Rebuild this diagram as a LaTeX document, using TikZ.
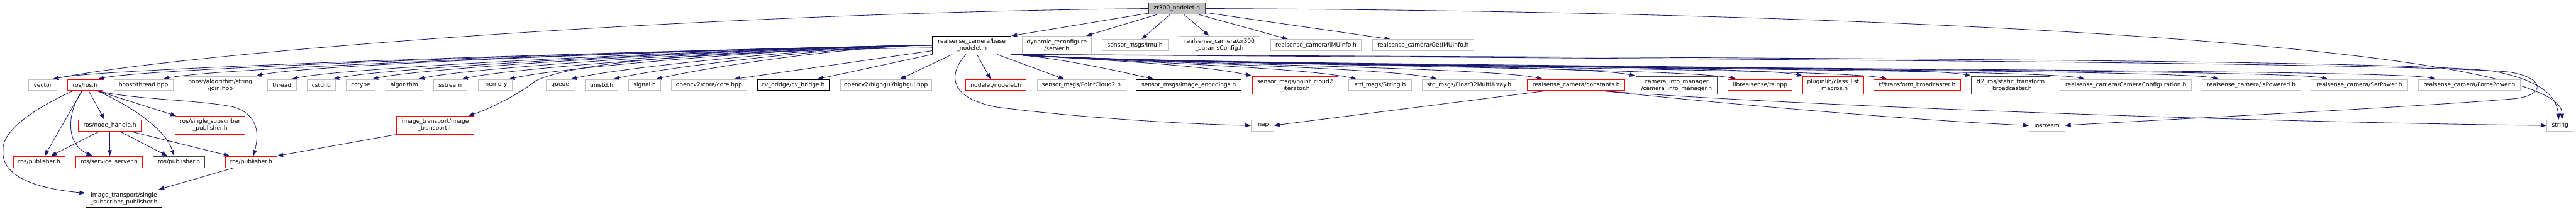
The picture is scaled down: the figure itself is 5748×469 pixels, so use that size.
\documentclass[tikz,border=0pt]{standalone}
\usepackage{fontspec}
\setmainfont{DejaVu Sans}
\usetikzlibrary{calc,arrows.meta}
\definecolor{cedge}{HTML}{191970}
\definecolor{cgrey}{HTML}{BFBFBF}
\definecolor{cred}{HTML}{FF0000}
\definecolor{cdark}{HTML}{404040}
\definecolor{croot}{HTML}{BFBFBF}
\pgfdeclarelayer{back}
\pgfsetlayers{back,main}
\tikzset{
  hbox/.style={draw,line width=1.3pt,fill=white,inner sep=0pt,align=center,minimum height=25pt},
  gbox/.style={hbox,draw=cgrey},
  rbox/.style={hbox,draw=cred},
  kbox/.style={hbox,draw=black},
  dbox/.style={hbox,draw=cdark},
  tall/.style={minimum height=40pt},
  dep/.style={draw=cedge,line width=1.2pt,-{Triangle[length=13pt,width=9pt]}},
}
\begin{document}
\begin{tikzpicture}[x=1pt,y=1pt,font=\fontsize{12.8}{15}\selectfont]
    \useasboundingbox (0,0) rectangle (5748,-469);
    \begin{pgfonlayer}{back}
      \fill[white] (0,0) rectangle (5748,-469);
    \end{pgfonlayer}
    % ---- root and its direct includes
    \node[hbox,draw=cdark,fill=croot,minimum width=126pt,minimum height=26pt] (root) at (2626,-19) {zr300\_nodelet.h};
    \node[kbox,tall,minimum width=175pt] (base) at (2168.5,-100.5) {realsense\_camera/base\\\_nodelet.h};
    \node[gbox,tall,minimum width=154pt] (dyn) at (2358,-100.5) {dynamic\_reconfigure\\/server.h};
    \node[gbox,minimum width=147pt] (imu) at (2532.5,-100.5) {sensor\_msgs/Imu.h};
    \node[gbox,tall,minimum width=180pt] (zrcfg) at (2721,-100.5) {realsense\_camera/zr300\\\_paramsConfig.h};
    \node[gbox,minimum width=203pt] (imuinfo) at (2936.5,-100.5) {realsense\_camera/IMUInfo.h};
    \node[gbox,minimum width=227pt] (getimu) at (3175.5,-100.5) {realsense\_camera/GetIMUInfo.h};
    % ---- third row
    \node[gbox,minimum width=63pt] (vector) at (95.5,-189.5) {vector};
    \node[rbox,minimum width=78pt] (ros) at (190,-189.5) {ros/ros.h};
    \node[gbox,minimum width=132pt] (bthread) at (320,-189.5) {boost/thread.hpp};
    \node[gbox,tall,minimum width=163pt] (join) at (491.5,-190) {boost/algorithm/string\\/join.hpp};
    \node[gbox,minimum width=64pt] (thread) at (629,-189.5) {thread};
    \node[gbox,minimum width=62pt] (cstdlib) at (717,-189.5) {cstdlib};
    \node[gbox,minimum width=64pt] (cctype) at (805,-189.5) {cctype};
    \node[gbox,minimum width=82pt] (algo) at (902,-189.5) {algorithm};
    \node[gbox,minimum width=75pt] (sstream) at (1004.5,-189.5) {sstream};
    \node[gbox,minimum width=76pt] (memory) at (1105,-189.5) {memory};
    \node[gbox,minimum width=62pt] (queue) at (1250,-189.5) {queue};
    \node[gbox,minimum width=73pt] (unistd) at (1342.5,-189.5) {unistd.h};
    \node[gbox,minimum width=71pt] (signal) at (1438.5,-189.5) {signal.h};
    \node[gbox,minimum width=168pt] (core) at (1582,-189.5) {opencv2/core/core.hpp};
    \node[kbox,minimum width=160pt] (cvbridge) at (1770,-189.5) {cv\_bridge/cv\_bridge.h};
    \node[gbox,minimum width=204pt] (highgui) at (1977,-189.5) {opencv2/highgui/highgui.hpp};
    \node[rbox,minimum width=135pt] (nodelet) at (2222.5,-189.5) {nodelet/nodelet.h};
    \node[gbox,minimum width=198pt] (pc2) at (2413,-189.5) {sensor\_msgs/PointCloud2.h};
    \node[kbox,minimum width=235pt] (enc) at (2652.5,-189.5) {sensor\_msgs/image\_encodings.h};
    \node[rbox,tall,minimum width=192pt] (pc2it) at (2890,-190) {sensor\_msgs/point\_cloud2\\\_iterator.h};
    \node[gbox,minimum width=139pt] (strmsg) at (3079.5,-189.5) {std\_msgs/String.h};
    \node[gbox,minimum width=210pt] (f32) at (3278,-189.5) {std\_msgs/Float32MultiArray.h};
    \node[rbox,minimum width=218pt] (const) at (3517,-189.5) {realsense\_camera/constants.h};
    \node[dbox,tall,minimum width=182pt] (cim) at (3741,-190) {camera\_info\_manager\\/camera\_info\_manager.h};
    \node[rbox,minimum width=143pt] (rs) at (3927.5,-189.5) {librealsense/rs.hpp};
    \node[rbox,tall,minimum width=135pt] (plugin) at (4090.5,-190) {pluginlib/class\_list\\\_macros.h};
    \node[rbox,minimum width=194pt] (tfb) at (4278,-189.5) {tf/transform\_broadcaster.h};
    \node[dbox,tall,minimum width=175pt] (tf2) at (4486.5,-190) {tf2\_ros/static\_transform\\\_broadcaster.h};
    \node[gbox,minimum width=293pt] (camcfg) at (4743.5,-189.5) {realsense\_camera/CameraConfiguration.h};
    \node[gbox,minimum width=221pt] (ispow) at (5023.5,-189.5) {realsense\_camera/IsPowered.h};
    \node[gbox,minimum width=215pt] (setpow) at (5264.5,-189.5) {realsense\_camera/SetPower.h};
    \node[gbox,minimum width=228pt] (forcepow) at (5510,-189.5) {realsense\_camera/ForcePower.h};
    % ---- lower rows
    \node[rbox,minimum width=140pt] (nh) at (245,-279.5) {ros/node\_handle.h};
    \node[rbox,tall,minimum width=156pt] (ssp) at (469,-279) {ros/single\_subscriber\\\_publisher.h};
    \node[rbox,tall,minimum width=173pt] (it) at (971.5,-279) {image\_transport/image\\\_transport.h};
    \node[gbox,minimum width=50pt] (map) at (2817,-279.5) {map};
    \node[gbox,minimum width=79pt] (iostream) at (4567.5,-279.5) {iostream};
    \node[gbox,minimum width=59pt] (string) at (5712.5,-279.5) {string};
    \node[rbox,minimum width=115pt,minimum height=26pt] (pub1) at (87.5,-361) {ros/publisher.h};
    \node[rbox,minimum width=149pt,minimum height=26pt] (srv) at (243.5,-361) {ros/service\_server.h};
    \node[dbox,minimum width=115pt,minimum height=26pt] (pub2) at (399.5,-361) {ros/publisher.h};
    \node[rbox,minimum width=115pt,minimum height=26pt] (pub3) at (560.5,-361) {ros/publisher.h};
    \node[kbox,tall,minimum width=171pt] (itssp) at (276.5,-443) {image\_transport/single\\\_subscriber\_publisher.h};

    \begin{pgfonlayer}{back}
    % root includes
    \draw[dep] (root) -- (base.north east);
    \draw[dep] (root) -- ($(dyn.north east)+(-12,0)$);
    \draw[dep] (root) -- ($(imu.north)+(15,0)$);
    \draw[dep] (root) -- ($(zrcfg.north)+(-23,0)$);
    \draw[dep] (root) -- ($(imuinfo.north west)+(40,0)$);
    \draw[dep] (root) -- ($(getimu.north west)+(41,0)$);
    \draw[dep] (root.west) .. controls (1500,-30) and (400,-120) .. ($(vector.north east)+(-10,0)$);
    \draw[dep] (root.east) .. controls (4200,-25) and (5720,-100) .. ($(string.north)+(4,0)$);
    % base_nodelet includes, left fan
    \foreach \t/\dx/\od in {vector/-10/500, ros/-11/500, bthread/-23/500, join/-2/450, thread/-11/450,
        cstdlib/-5/400, cctype/-7/400, algo/-10/350, sstream/-12/300, memory/-8/300, queue/-8/250,
        unistd/-11/220, signal/-11/200}
      \draw[dep] (base.west) .. controls +(181:\od) and +(13:120) .. ($(\t.north east)+(\dx,0)$);
    \draw[dep] ($(base.west)+(0,-12.5)$) -- ($(core.north east)+(-29,0)$);
    \draw[dep] (base.south west) -- ($(cvbridge.north east)+(-27,0)$);
    \draw[dep] (base) -- ($(highgui.north)+(31,0)$);
    \draw[dep] (base) -- ($(nodelet.north)+(-12,0)$);
    \draw[dep] (base) -- ($(pc2.north)+(-38,0)$);
    \draw[dep] ($(base.west)+(0,-6)$) .. controls (1450,-115) and (1260,-150) .. (1195,-180)
      .. controls (1165,-205) and (1100,-240) .. ($(it.north east)+(-14,0)$);
    \draw[dep] ($(base.south)+(-13,0)$) .. controls (2120,-160) and (2110,-215) .. (2220,-238)
      .. controls (2400,-262) and (2650,-277) .. (map.west);
    % base_nodelet includes, right fan
    \foreach \t/\dx/\od in {enc/40/90, pc2it/0/150, strmsg/18/220, f32/35/250, const/35/300, cim/0/300,
        rs/19/350, plugin/0/400, tfb/31/400, tf2/0/400, camcfg/56/450, ispow/39/500, setpow/38/500,
        forcepow/40/500}
      \draw[dep] (base.south east) .. controls +(-4:\od) and +(167:120) .. ($(\t.north west)+(\dx,0)$);
    \draw[dep] (base.south east) .. controls (3500,-128) and (5300,-130) .. (5560,-158)
      .. controls (5680,-180) and (5705,-220) .. ($(string.north)+(-3,0)$);
    \draw[dep] (base.south east) .. controls (3500,-130) and (5300,-137) .. (5595,-160)
      .. controls (5680,-172) and (5682,-212) .. (5610,-220)
      .. controls (5400,-238) and (4800,-268) .. (iostream.east);
    % constants.h
    \draw[dep] ($(const.south west)+(40,0)$) -- (map.east);
    \draw[dep] ($(const.south east)+(-48,0)$) .. controls (3850,-232) and (4300,-270) .. (iostream.west);
    \draw[dep] ($(const.south east)+(-48,0)$) .. controls (4000,-235) and (5000,-272) .. (string.west);
    % ros/ros.h and below
    \draw[dep] ($(ros.south west)+(12,0)$) .. controls (80,-240) and (5,-290) .. (7,-333)
      .. controls (0,-400) and (100,-422) .. ($(itssp.north west)+(0,-8)$);
    \draw[dep] ($(ros.south)+(-7,0)$) -- ($(pub1.north)+(12,0)$);
    \draw[dep] ($(ros.south)+(-7,0)$) .. controls (150,-250) and (145,-320) .. ($(srv.north west)+(38,0)$);
    \draw[dep] ($(ros.south)+(8,0)$) -- ($(nh.north)+(-12,0)$);
    \draw[dep] ($(ros.south east)+(-12,0)$) .. controls (300,-240) and (370,-290) .. ($(pub2.north)+(-11,0)$);
    \draw[dep] ($(ros.south east)+(-12,0)$) -- ($(ssp.north west)+(3,0)$);
    \draw[dep] ($(ros.south east)+(-12,0)$) .. controls (300,-222) and (440,-222) .. (520,-238)
      .. controls (578,-255) and (578,-300) .. ($(pub3.north)+(5,0)$);
    \draw[dep] ($(nh.south)+(-23,0)$) -- ($(pub1.north)+(26,0)$);
    \draw[dep] (nh) -- (nh |- srv.north);
    \draw[dep] ($(nh.south)+(22,0)$) -- ($(pub2.north)+(-26,0)$);
    \draw[dep] ($(nh.south east)+(-25,0)$) -- ($(pub3.north west)+(10,0)$);
    \draw[dep] (it.south west) -- (pub3.north east);
    \draw[dep] ($(pub3.south west)+(17,0)$) -- ($(itssp.north east)+(-9,0)$);
    \end{pgfonlayer}
  \end{tikzpicture}
\end{document}
